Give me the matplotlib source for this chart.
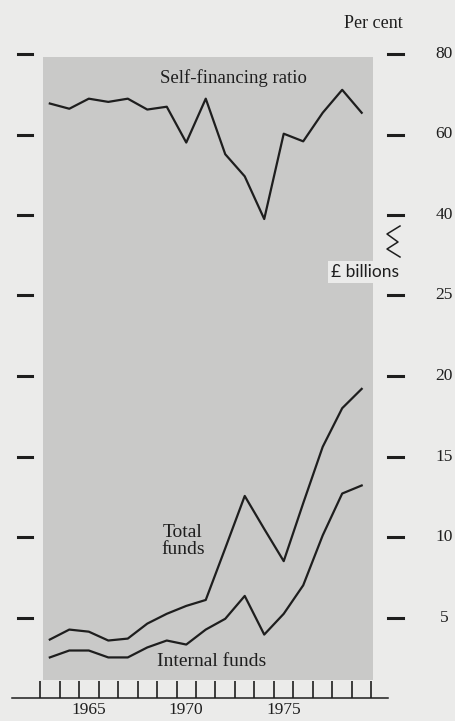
import matplotlib
matplotlib.use('Agg')
import matplotlib.pyplot as plt
from matplotlib.patches import Rectangle
from matplotlib.lines import Line2D
import numpy as np

# data (annual, plotted mid-year)
years = list(range(1963, 1980))
self_financing = [67.7, 66.4, 68.9, 68.1, 68.9, 66.2, 66.9, 58.0, 68.9, 55.1,
                  49.6, 39.0, 60.2, 58.3, 65.4, 71.1, 65.4]          # per cent
total_funds = [3.63, 4.25, 4.12, 3.57, 3.69, 4.62, 5.23, 5.72, 6.09, 9.3,
               12.55, 10.5, 8.5, 12.1, 15.6, 18.0, 19.2]            # £ billions
internal_funds = [2.52, 2.95, 2.95, 2.52, 2.52, 3.14, 3.57, 3.32, 4.25, 4.92,
                  6.34, 3.94, 5.23, 7.0, 10.1, 12.7, 13.2]          # £ billions

billion_ticks = [5, 10, 15, 20, 25]
percent_ticks = [40, 60, 80]
year_labels = [1965, 1970, 1975]
tick_years = list(range(1963, 1981))

W, H = 456, 721
BG = '#ebebea'
PANEL = '#c9c9c8'
INK = '#1e1e1e'
SERIF = ['Liberation Serif', 'DejaVu Serif']
Y0 = 698      # pixel row of the zero line
PX = 16.1     # pixels per £ billion


def pct_to_units(p):
    # upper panel: 40% sits at 30 units, 20% per 5 units
    return 30 + (np.asarray(p, dtype=float) - 40) / 4.0


def fx(px):
    return px / W


def fy(py):
    return 1 - py / H


fig = plt.figure(figsize=(W / 100, H / 100), dpi=100, facecolor=BG)

# axes: x is 19.5 px per year
ax = fig.add_axes([fx(12), fy(Y0), fx(388) - fx(12), 43 * PX / H])
ax.set_facecolor('none')
ax.set_xlim(1961.56, 1980.85)
ax.set_ylim(0, 43)
for s in ['top', 'left', 'right']:
    ax.spines[s].set_visible(False)
ax.spines['bottom'].set_color(INK)
ax.spines['bottom'].set_linewidth(1.1)

# grey panel
ax.add_patch(Rectangle((1963.15, 1.1), 1980.08 - 1963.15, 39.8 - 1.1,
                       facecolor=PANEL, edgecolor='none', zorder=0))

xs = np.array(years) + 0.5
ax.plot(xs, pct_to_units(self_financing), color=INK, lw=1.6, zorder=3)
ax.plot(xs, total_funds, color=INK, lw=1.6, zorder=3)
ax.plot(xs, internal_funds, color=INK, lw=1.6, zorder=3)

# year ticks (year boundaries) pointing up, labels centred in the year
ax.set_xticks(tick_years)
ax.set_xticklabels([])
ax.tick_params(axis='x', which='major', direction='in', length=12, width=1.2, color=INK)
ax.set_xticks([y + 0.5 for y in year_labels], minor=True)
ax.set_xticklabels([str(y) for y in year_labels], minor=True)
ax.tick_params(axis='x', which='minor', length=0, pad=3, labelsize=12.5, labelcolor=INK)
for lab in ax.get_xticklabels(minor=True):
    lab.set_family(SERIF)
ax.set_yticks([])

# dashes on both sides of the panel + right hand labels
levels = billion_ticks + list(pct_to_units(percent_ticks))
labels = [str(v) for v in billion_ticks] + [str(v) for v in percent_ticks]
for lv, lab in zip(levels, labels):
    py = Y0 - lv * PX
    fig.add_artist(Line2D([fx(18), fx(32)], [fy(py), fy(py)], color=INK, lw=2.2))
    fig.add_artist(Line2D([fx(388), fx(403)], [fy(py), fy(py)], color=INK, lw=2.2))
    fig.text(fx(444), fy(py), lab, ha='center', va='center', fontsize=12.5,
             family=SERIF, color=INK)

# scale break zigzag
zx = [400, 387, 398, 387, 400]
zy = [226, 234, 242, 249, 257]
fig.add_artist(Line2D([fx(v) for v in zx], [fy(v) for v in zy], color=INK, lw=1.1))

# titles and series labels
fig.text(fx(373), fy(23), 'Per cent', ha='center', va='center', fontsize=13,
         family=SERIF, color=INK)
fig.text(fx(365), fy(272), '£ billions', ha='center', va='center', fontsize=12.5,
         family=['Lato', 'DejaVu Sans'], color=INK,
         bbox=dict(boxstyle='square,pad=0.2', facecolor=BG, edgecolor='none'))
fig.text(fx(233), fy(78), 'Self-financing ratio', ha='center', va='center',
         fontsize=13.5, family=SERIF, color=INK)
fig.text(fx(183), fy(541), 'Total\nfunds', ha='center', va='center',
         fontsize=14, family=SERIF, color=INK, linespacing=1.05)
fig.text(fx(212), fy(662), 'Internal funds', ha='center', va='center',
         fontsize=14, family=SERIF, color=INK)

plt.savefig('out.png', dpi=100, facecolor=BG)
